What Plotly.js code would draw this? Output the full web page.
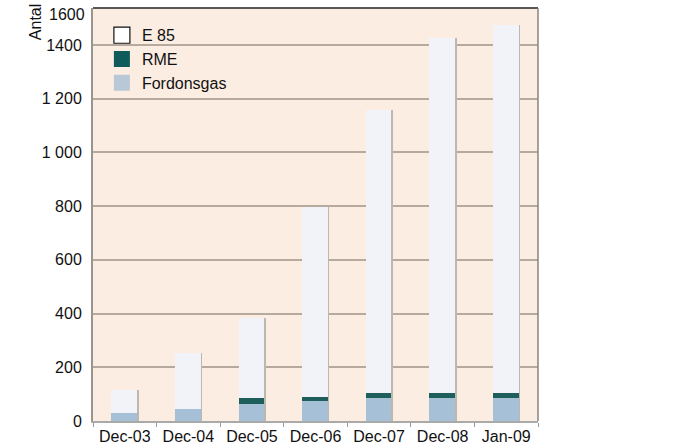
<!DOCTYPE html>
<html><head><meta charset="utf-8">
<script src="https://cdn.plot.ly/plotly-3.0.1.min.js"></script>
<style>body{margin:0;background:#fff}#c{width:675px;height:444px}</style>
</head><body><div id="c"></div>
<script>
const categories = ["Dec-03","Dec-04","Dec-05","Dec-06","Dec-07","Dec-08","Jan-09"];
const fordonsgas = [30, 45, 63, 75, 86, 86, 86];
const rme = [0, 0, 23, 15, 18, 18, 18];
const e85 = [85, 208, 298, 707, 1054, 1322, 1372];
const yTickVals = [0,200,400,600,800,1000,1200,1400];
const yTickText = ["0","200","400","600","800","1 000","1 200","1400"];
const topLabel = "1600";
const seriesNames = ["E 85","RME","Fordonsgas"];
const seriesColors = ["#f1f3f8","#1e5e5b","#a5c0d7"];
const legendColors = ["#ffffff","#0f5a5a","#b9c8d6"];

const fam = "Liberation Sans, Arial, sans-serif";
const font = {family:fam, size:16, color:"#111"};
const W = 0.42;
const traces = [
  {type:"bar", name:"Fordonsgas", x:categories, y:fordonsgas, marker:{color:seriesColors[2]}, width:W, showlegend:false},
  {type:"bar", name:"RME", x:categories, y:rme, marker:{color:seriesColors[1]}, width:W, showlegend:false},
  {type:"bar", name:"E 85", x:categories, y:e85, marker:{color:seriesColors[0]}, width:W, showlegend:false},
];
const totals = categories.map((c,i)=>fordonsgas[i]+rme[i]+e85[i]);
traces.push({type:"bar", x:categories, y:totals, xaxis:"x2", marker:{color:"#bdb7b2"}, width:0.025, offset:0.195, showlegend:false, hoverinfo:"skip"});
seriesNames.forEach((n,i)=>{
  traces.push({type:"scatter", mode:"markers", name:n, x:[null], y:[null],
    marker:{symbol:"square", size:16, color:legendColors[i],
      line:{width: i===0 ? 1.2 : 0, color:"#111"}}});
});

const layout = {
  width:675, height:444,
  margin:{l:93, r:137, t:8, b:23},
  paper_bgcolor:"#fff", plot_bgcolor:"#fcede2",
  barmode:"stack",
  font:font,
  showlegend:true,
  legend:{x:0.02, y:0.975, xanchor:"left", yanchor:"top", bgcolor:"rgba(0,0,0,0)", font:{size:16, color:"#111", family:fam}, traceorder:"normal", itemsizing:"trace", tracegroupgap:0, itemwidth:30},
  xaxis:{type:"category", tickson:"boundaries", ticks:"outside", ticklen:4, tickcolor:"#999", showgrid:false, showline:true, linecolor:"#aaa", linewidth:1.5, tickfont:{size:16}, range:[-0.5,6.5]},
  xaxis2:{type:"category", overlaying:"x", matches:"x", visible:false, range:[-0.5,6.5]},
  yaxis:{range:[0,1538], tickvals:yTickVals, ticktext:yTickText, showgrid:true, gridcolor:"#b6a99d", gridwidth:2, showline:true, linecolor:"#9a948f", linewidth:2, ticks:"", tickfont:{size:16}, zeroline:false, ticklabelstandoff:6},
  shapes:[
    {type:"line", xref:"paper", yref:"paper", x0:0, x1:1, y0:1, y1:1, line:{color:"#222", width:1.5}},
    {type:"line", xref:"paper", yref:"paper", x0:1, x1:1, y0:0, y1:1, line:{color:"#8a8480", width:1.5}}
  ],
  annotations:[
    {text:"Antal", xref:"paper", yref:"paper", x:-0.13, y:1.0, xanchor:"center", yanchor:"top", yshift:6, textangle:-90, showarrow:false, font:{size:16, color:"#111"}},
    {text:topLabel, xref:"paper", yref:"paper", x:0, y:1, xanchor:"right", yanchor:"middle", xshift:-6, yshift:-6, showarrow:false, font:{size:16, color:"#111"}}
  ]
};
Plotly.newPlot("c", traces, layout, {displayModeBar:false, staticPlot:true});
</script></body></html>
